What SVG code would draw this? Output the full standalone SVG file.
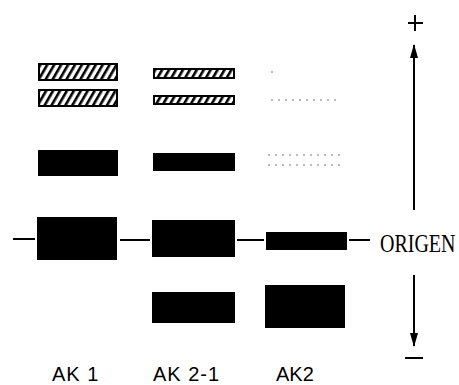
<svg xmlns="http://www.w3.org/2000/svg" width="459" height="385" viewBox="0 0 459 385">
<style>
.solid{fill:#000}
.hatch{fill:url(#hatch);stroke:#000;stroke-width:2}
.conn{stroke:#000;stroke-width:2;fill:none}
.faint{stroke:#777;stroke-width:1;stroke-dasharray:2 5;fill:none}
.lbl{font-family:"Liberation Sans",Arial,sans-serif;font-size:20px;fill:#000;letter-spacing:1px}
.org{font-family:"Liberation Serif","Times New Roman",serif;font-size:20px;fill:#000}
</style>
<defs>
<pattern id="hatch" patternUnits="userSpaceOnUse" width="6" height="6" patternTransform="rotate(30)">
<rect width="6" height="6" fill="#fff"/>
<rect width="2.6" height="6" fill="#000"/>
</pattern>
<marker id="ah" markerWidth="14" markerHeight="8" refX="13" refY="4" orient="auto" markerUnits="userSpaceOnUse">
<path d="M0,0 L14,4 L0,8 Z" fill="#000"/>
</marker>
</defs>
<rect width="459" height="385" fill="#fff"/>
<g id="ak1">
<rect class="hatch" x="39" y="64" width="78" height="16"/>
<rect class="hatch" x="39" y="90" width="78" height="16"/>
<rect class="solid" x="38" y="150" width="80" height="26"/>
<rect class="solid" x="37" y="217" width="80" height="43"/>
<text class="lbl" x="52" y="381">AK 1</text>
</g>
<g id="ak2-1">
<rect class="hatch" x="154" y="69" width="80" height="9"/>
<rect class="hatch" x="154" y="96" width="80" height="8"/>
<rect class="solid" x="153" y="153" width="82" height="18"/>
<rect class="solid" x="152" y="220" width="83" height="37"/>
<rect class="solid" x="152" y="292" width="83" height="31"/>
<text class="lbl" x="153" y="381">AK 2-1</text>
</g>
<g id="ak2">
<line class="faint" x1="271" y1="72" x2="275" y2="72"/>
<line class="faint" x1="271" y1="100" x2="336" y2="100"/>
<line class="faint" x1="268" y1="155" x2="345" y2="155"/>
<line class="faint" x1="268" y1="165" x2="345" y2="165"/>
<rect class="solid" x="266" y="232" width="81" height="18"/>
<rect class="solid" x="265" y="285" width="80" height="43"/>
<text class="lbl" x="276" y="381" style="letter-spacing:0">AK2</text>
</g>
<g id="origen">
<text class="org" transform="translate(380,252) scale(1,1.25)" x="0" y="0">ORIGEN</text>
</g>
<g id="connectors">
<line class="conn" x1="13" y1="239" x2="35" y2="239"/>
<line class="conn" x1="120" y1="240" x2="150" y2="240"/>
<line class="conn" x1="237" y1="240" x2="264" y2="240"/>
<line class="conn" x1="349" y1="240" x2="370" y2="240"/>
<line class="conn" x1="414" y1="210" x2="414" y2="45" marker-end="url(#ah)"/>
<line class="conn" x1="414" y1="275" x2="414" y2="346" marker-end="url(#ah)"/>
<line class="conn" x1="408" y1="23" x2="423" y2="23"/>
<line class="conn" x1="415" y1="15" x2="415" y2="31"/>
<line class="conn" x1="405" y1="358" x2="423" y2="358"/>
</g>
</svg>
